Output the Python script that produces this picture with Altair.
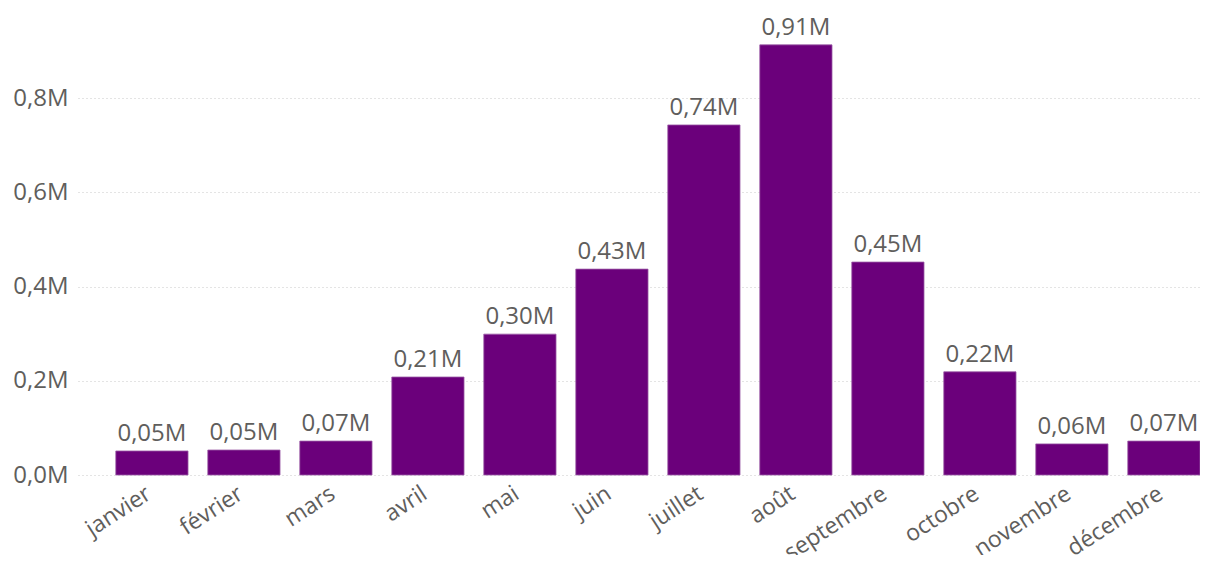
import altair as alt
import pandas as pd

months = ["janvier", "février", "mars", "avril", "mai", "juin", "juillet",
          "août", "septembre", "octobre", "novembre", "décembre"]
values_m = [0.051, 0.053, 0.072, 0.208, 0.299, 0.437, 0.743, 0.913, 0.452, 0.219, 0.066, 0.072]
value_labels = ["0,05M", "0,05M", "0,07M", "0,21M", "0,30M", "0,43M", "0,74M",
                "0,91M", "0,45M", "0,22M", "0,06M", "0,07M"]
y_ticks = [0.0, 0.2, 0.4, 0.6, 0.8]

df = pd.DataFrame({"mois": months, "valeur": values_m, "label": value_labels})

FONT = "Open Sans"
GREY = "#605E5C"

x = alt.X("mois:N", sort=months, title=None,
          scale=alt.Scale(paddingInner=0.215, paddingOuter=0.2055, align=1),
          axis=alt.Axis(labelAngle=-33, labelFontSize=23, labelColor=GREY, labelFont=FONT,
                        domain=False, ticks=False, labelPadding=7, labelOffset=-9))
y = alt.Y("valeur:Q", title=None,
          scale=alt.Scale(domain=[0, 0.987], nice=False),
          axis=alt.Axis(values=y_ticks, labelFontSize=24, labelColor=GREY, labelFont=FONT,
                        labelExpr="replace(format(datum.value, '.1f'), '.', ',') + 'M'",
                        domain=False, ticks=False, labelPadding=10,
                        grid=True, gridColor="#C8C8C8", gridDash=[1, 3], gridWidth=1))

bars = alt.Chart(df).mark_bar(color="#6B007B", stroke="#9A5BA6", strokeWidth=0.8).encode(x=x, y=y)
text = alt.Chart(df).mark_text(baseline="bottom", dy=-5, fontSize=24, font=FONT, color=GREY).encode(
    x=alt.X("mois:N", sort=months), y="valeur:Q", text="label:N")

chart = (bars + text).properties(
    width=1122, height=465,
    autosize=alt.AutoSizeParams(type="none"),
    padding={"left": 70, "top": 2, "right": 0, "bottom": 80},
).configure_view(stroke=None)

chart.save("out.html", embed_options={"renderer": "svg", "actions": False})
